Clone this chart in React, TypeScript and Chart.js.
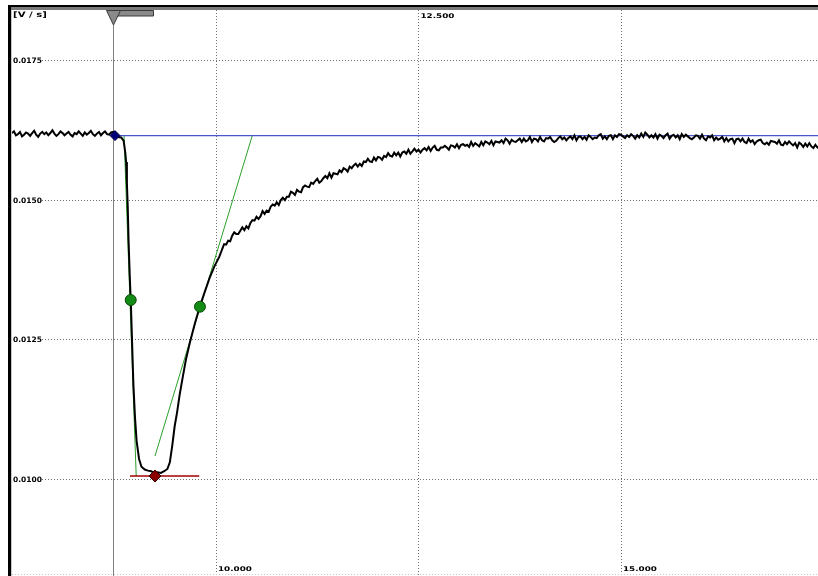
import { useEffect, useRef } from 'react';
import { Chart, registerables } from 'chart.js';

Chart.register(...registerables);

// ---------- data (time in s, signal in V/s) ----------
const baselineTime = [
  7.48, 7.505, 7.53, 7.555, 7.58, 7.605, 7.63, 7.655, 7.68, 7.705,
  7.73, 7.755, 7.78, 7.805, 7.83, 7.855, 7.88, 7.905, 7.93, 7.955,
  7.98, 8.005, 8.03, 8.055, 8.08, 8.105, 8.13, 8.155, 8.18, 8.205,
  8.23, 8.255, 8.28, 8.305, 8.33, 8.355, 8.38, 8.405, 8.43, 8.455,
  8.48, 8.505, 8.53, 8.555, 8.58, 8.605, 8.63, 8.655, 8.68, 8.705,
  8.73,
];
const baselineSignal = [
  0.0162, 0.01623, 0.01616, 0.01618, 0.01622, 0.01614, 0.01617, 0.01621, 0.01619, 0.01615,
  0.0162, 0.01624, 0.01617, 0.01613, 0.01619, 0.01622, 0.01618, 0.01621, 0.01616, 0.0162,
  0.01625, 0.01619, 0.01615, 0.01618, 0.01623, 0.0162, 0.01616, 0.01619, 0.01622, 0.01617,
  0.01614, 0.0162, 0.01618, 0.01623, 0.01619, 0.01615, 0.01621, 0.01617, 0.0162, 0.01624,
  0.01618, 0.01615, 0.01619, 0.01622, 0.01616, 0.0162, 0.01623, 0.01618, 0.01617, 0.01621,
  0.01622,
];

const dipTime = [
  8.76, 8.79, 8.83, 8.86, 8.88, 8.89, 8.9, 8.91, 8.92, 8.935, 8.95, 8.965, 8.98,
  9.0, 9.02, 9.05, 9.08, 9.12, 9.16, 9.2, 9.24, 9.28, 9.32, 9.36, 9.4, 9.43, 9.46,
  9.49, 9.52, 9.55, 9.59, 9.63, 9.68, 9.74, 9.8, 9.86, 9.92, 9.98, 10.04,
];
const dipSignal = [
  0.01616, 0.01613, 0.01612, 0.01606, 0.01585, 0.01568, 0.0153, 0.0149, 0.0143,
  0.01365, 0.0131, 0.0124, 0.0117, 0.0111, 0.01068, 0.01036, 0.01022, 0.01017,
  0.01015, 0.01014, 0.0101, 0.01012, 0.01011, 0.01014, 0.01018, 0.0103, 0.0106,
  0.01095, 0.0112, 0.0115, 0.01183, 0.01215, 0.01246, 0.01279, 0.01309, 0.01335,
  0.0136, 0.01381, 0.01398,
];

const recoveryTime = [
  10.1, 10.125, 10.15, 10.175, 10.2, 10.225, 10.25, 10.275, 10.3, 10.325, 10.35, 10.375, 10.4, 10.425, 10.45, 10.475,
  10.5, 10.525, 10.55, 10.575, 10.6, 10.625, 10.65, 10.675, 10.7, 10.725, 10.75, 10.775, 10.8, 10.825, 10.85, 10.875,
  10.9, 10.925, 10.95, 10.975, 11.0, 11.025, 11.05, 11.075, 11.1, 11.125, 11.15, 11.175, 11.2, 11.225, 11.25, 11.275,
  11.3, 11.325, 11.35, 11.375, 11.4, 11.425, 11.45, 11.475, 11.5, 11.525, 11.55, 11.575, 11.6, 11.625, 11.65, 11.675,
  11.7, 11.725, 11.75, 11.775, 11.8, 11.825, 11.85, 11.875, 11.9, 11.925, 11.95, 11.975, 12.0, 12.025, 12.05, 12.075,
  12.1, 12.125, 12.15, 12.175, 12.2, 12.225, 12.25, 12.275, 12.3, 12.325, 12.35, 12.375, 12.4, 12.425, 12.45, 12.475,
  12.5, 12.525, 12.55, 12.575, 12.6, 12.625, 12.65, 12.675, 12.7, 12.725, 12.75, 12.775, 12.8, 12.825, 12.85, 12.875,
  12.9, 12.925, 12.95, 12.975, 13.0, 13.025, 13.05, 13.075, 13.1, 13.125, 13.15, 13.175, 13.2, 13.225, 13.25, 13.275,
  13.3, 13.325, 13.35, 13.375, 13.4, 13.425, 13.45, 13.475, 13.5, 13.525, 13.55, 13.575, 13.6, 13.625, 13.65, 13.675,
  13.7, 13.725, 13.75, 13.775, 13.8, 13.825, 13.85, 13.875, 13.9, 13.925, 13.95, 13.975, 14.0, 14.025, 14.05, 14.075,
  14.1, 14.125, 14.15, 14.175, 14.2, 14.225, 14.25, 14.275, 14.3, 14.325, 14.35, 14.375, 14.4, 14.425, 14.45, 14.475,
  14.5, 14.525, 14.55, 14.575, 14.6, 14.625, 14.65, 14.675, 14.7, 14.725, 14.75, 14.775, 14.8, 14.825, 14.85, 14.875,
  14.9, 14.925, 14.95, 14.975, 15.0, 15.025, 15.05, 15.075, 15.1, 15.125, 15.15, 15.175, 15.2, 15.225, 15.25, 15.275,
  15.3, 15.325, 15.35, 15.375, 15.4, 15.425, 15.45, 15.475, 15.5, 15.525, 15.55, 15.575, 15.6, 15.625, 15.65, 15.675,
  15.7, 15.725, 15.75, 15.775, 15.8, 15.825, 15.85, 15.875, 15.9, 15.925, 15.95, 15.975, 16.0, 16.025, 16.05, 16.075,
  16.1, 16.125, 16.15, 16.175, 16.2, 16.225, 16.25, 16.275, 16.3, 16.325, 16.35, 16.375, 16.4, 16.425, 16.45, 16.475,
  16.5, 16.525, 16.55, 16.575, 16.6, 16.625, 16.65, 16.675, 16.7, 16.725, 16.75, 16.775, 16.8, 16.825, 16.85, 16.875,
  16.9, 16.925, 16.95, 16.975, 17.0, 17.025, 17.05, 17.075, 17.1, 17.125, 17.15, 17.175, 17.2, 17.225, 17.25, 17.275,
  17.3, 17.325, 17.35, 17.375, 17.4, 17.425, 17.45,
];
const recoverySignal = [
  0.01421, 0.0142, 0.01427, 0.01426, 0.01436, 0.01442, 0.01439, 0.01439, 0.01445, 0.01451, 0.01446, 0.01453, 0.01449, 0.01459, 0.01464, 0.01463,
  0.0147, 0.01466, 0.01471, 0.0148, 0.01475, 0.01481, 0.01479, 0.01488, 0.01492, 0.0149, 0.01496, 0.01491, 0.015, 0.01504, 0.015, 0.01506,
  0.01506, 0.01515, 0.01513, 0.01509, 0.01518, 0.01515, 0.01514, 0.01523, 0.01526, 0.01524, 0.01523, 0.01531, 0.01529, 0.01534, 0.01538, 0.01531,
  0.01534, 0.01539, 0.01543, 0.01539, 0.01548, 0.0154, 0.01548, 0.01547, 0.01546, 0.01553, 0.0155, 0.01557, 0.01555, 0.01551, 0.0156, 0.01557,
  0.01562, 0.01565, 0.0156, 0.01565, 0.01561, 0.01569, 0.01568, 0.01574, 0.01569, 0.01568, 0.01576, 0.01571, 0.01577, 0.01576, 0.01572, 0.01579,
  0.01577, 0.01584, 0.01579, 0.01578, 0.01585, 0.0158, 0.01585, 0.01578, 0.01585, 0.01587, 0.01583, 0.0159, 0.01583, 0.01587, 0.01592, 0.01587,
  0.0159, 0.01585, 0.0159, 0.01593, 0.01589, 0.01595, 0.01588, 0.01594, 0.01597, 0.0159, 0.01589, 0.01594, 0.01594, 0.01597, 0.01594, 0.0159,
  0.01598, 0.01597, 0.01594, 0.016, 0.01593, 0.01599, 0.016, 0.01597, 0.01599, 0.01595, 0.01604, 0.01597, 0.01602, 0.01599, 0.01596, 0.01604,
  0.01598, 0.01605, 0.01603, 0.016, 0.01606, 0.01598, 0.01605, 0.01604, 0.01603, 0.01607, 0.01602, 0.0161, 0.01607, 0.01601, 0.01608, 0.01605,
  0.01604, 0.01607, 0.0161, 0.01604, 0.0161, 0.01605, 0.01607, 0.01613, 0.01604, 0.0161, 0.01609, 0.01605, 0.01613, 0.01607, 0.01605, 0.01611,
  0.0161, 0.01613, 0.01607, 0.01604, 0.01606, 0.01611, 0.01614, 0.01609, 0.01612, 0.01607, 0.01611, 0.01614, 0.01609, 0.01616, 0.01607, 0.01613,
  0.01614, 0.01609, 0.01613, 0.01608, 0.01616, 0.01613, 0.01609, 0.01612, 0.01611, 0.01616, 0.01618, 0.0161, 0.01614, 0.01609, 0.01615, 0.01616,
  0.01609, 0.01616, 0.01613, 0.01618, 0.01617, 0.01614, 0.01611, 0.01616, 0.01613, 0.01618, 0.01615, 0.0161, 0.01616, 0.01612, 0.01619, 0.01613,
  0.01621, 0.01617, 0.01612, 0.01616, 0.01612, 0.01618, 0.0161, 0.01617, 0.01615, 0.01611, 0.01616, 0.01619, 0.0161, 0.01615, 0.01617, 0.01612,
  0.01616, 0.01609, 0.01618, 0.01613, 0.01617, 0.01614, 0.01611, 0.01609, 0.01612, 0.01616, 0.01615, 0.0161, 0.01617, 0.0161, 0.01607, 0.01614,
  0.01612, 0.01616, 0.01607, 0.01612, 0.01608, 0.0161, 0.01613, 0.01605, 0.01611, 0.01605, 0.01609, 0.0161, 0.01602, 0.01609, 0.0161, 0.01605,
  0.0161, 0.01604, 0.01602, 0.0161, 0.01604, 0.01607, 0.016, 0.01605, 0.01607, 0.01608, 0.01602, 0.016, 0.01603, 0.01599, 0.01606, 0.01605,
  0.01604, 0.01601, 0.01607, 0.01599, 0.01598, 0.01604, 0.016, 0.01605, 0.01601, 0.01598, 0.01602, 0.01594, 0.01603, 0.016, 0.01595, 0.01601,
  0.01596, 0.01602, 0.01596, 0.01593, 0.01599, 0.01594, 0.01596,
];

// analysis marks
const cursorTime = 8.73;
const baseLevelLine = { t: [8.73, 17.44], v: [0.016154, 0.016154] };
const onsetPoint = { t: [8.753], v: [0.016154] };
const halfPoints = { t: [8.947, 9.802], v: [0.013208, 0.013088] };
const minPoint = { t: [9.247], v: [0.010054] };
const minLevelLine = { t: [8.938, 9.793], v: [0.010054, 0.010054] };
const fallTangent = { t: [8.865, 9.015], v: [0.016154, 0.010054] };
const riseTangent = { t: [9.247, 10.448], v: [0.010413, 0.016154] };

// axes
const xRange = [7.4815, 17.432];
const yRange = [0.008262, 0.018405];
const xTickValues = [10, 12.5, 15];
const xTickLabels = ['10.000', '12.500', '15.000'];
const xTickSide = ['bottom', 'top', 'bottom'];
const yTickValues = [0.01, 0.0125, 0.015, 0.0175];
const yTickLabels = ['0.0100', '0.0125', '0.0150', '0.0175'];
const unitLabel = '[V / s]';

const pts = (t: number[], v: number[]) => t.map((x, i) => ({ x, y: v[i] }));

function stretchText(ctx: CanvasRenderingContext2D, text: string, x: number, y: number, sx: number, font: string) {
  ctx.save();
  ctx.font = font;
  ctx.textBaseline = 'alphabetic';
  ctx.textAlign = 'left';
  ctx.translate(x, y);
  ctx.scale(sx, 1);
  ctx.fillText(text, 0, 0);
  ctx.restore();
}

const decorPlugin = {
  id: 'decor',
  beforeDraw(chart: any) {
    const { ctx, width, height } = chart;
    ctx.save();
    ctx.fillStyle = '#ffffff';
    ctx.fillRect(0, 0, width, height);
    ctx.fillStyle = '#000000';
    ctx.fillRect(8, 5, width - 8, 2.5);
    ctx.fillStyle = '#7a7a7a';
    ctx.fillRect(8, 7.5, width - 8, 2.5);
    ctx.fillStyle = '#000000';
    ctx.fillRect(8, 5, 3, height - 5);
    ctx.fillStyle = '#c8c8c8';
    ctx.fillRect(11, 10, 1, height - 10);
    ctx.restore();
  },
  beforeDatasetsDraw(chart: any) {
    const { ctx, chartArea } = chart;
    const xs = chart.scales.x;
    const ys = chart.scales.y;
    ctx.save();
    // bottom dotted edge
    ctx.strokeStyle = '#c8c8c8';
    ctx.setLineDash([1, 2]);
    ctx.beginPath();
    ctx.moveTo(chartArea.left, chartArea.bottom - 1.5);
    ctx.lineTo(chartArea.right, chartArea.bottom - 1.5);
    ctx.stroke();
    ctx.setLineDash([]);
    // y labels with backdrop
    yTickValues.forEach((v, i) => {
      const py = ys.getPixelForValue(v);
      ctx.fillStyle = '#ffffff';
      ctx.fillRect(chartArea.left, py - 4, 29, 7);
      ctx.fillStyle = '#000000';
      stretchText(ctx, yTickLabels[i], chartArea.left + 1, py + 2.5, 1.0, 'bold 7.5px "DejaVu Sans"');
    });
    // x labels
    xTickValues.forEach((v, i) => {
      const px = xs.getPixelForValue(v);
      ctx.fillStyle = '#000000';
      const by = xTickSide[i] === 'top' ? chartArea.top + 7.5 : chartArea.bottom - 5;
      stretchText(ctx, xTickLabels[i], px + 2, by, 1.35, 'bold 6.5px "DejaVu Sans"');
    });
    stretchText(ctx, unitLabel, chartArea.left + 1, chartArea.top + 7, 1.35, 'bold 7.5px "DejaVu Sans"');
    // cursor line
    const cx = Math.round(xs.getPixelForValue(cursorTime)) + 0.5;
    ctx.strokeStyle = '#808080';
    ctx.lineWidth = 1;
    ctx.beginPath();
    ctx.moveTo(cx, chartArea.top);
    ctx.lineTo(cx, chartArea.bottom);
    ctx.stroke();
    ctx.restore();
  },
  afterDatasetsDraw(chart: any) {
    const { ctx, chartArea } = chart;
    const xs = chart.scales.x;
    const cx = Math.round(xs.getPixelForValue(cursorTime)) + 0.5;
    const top = chartArea.top;
    ctx.save();
    ctx.fillStyle = '#8a8a8a';
    ctx.strokeStyle = '#3a3a3a';
    ctx.lineWidth = 1;
    ctx.beginPath();
    ctx.rect(cx, top + 0.5, 40, 5.5);
    ctx.fill();
    ctx.stroke();
    ctx.beginPath();
    ctx.moveTo(cx - 7, top + 0.5);
    ctx.lineTo(cx + 7, top + 0.5);
    ctx.lineTo(cx, top + 15);
    ctx.closePath();
    ctx.fill();
    ctx.stroke();
    ctx.restore();
  },
};

export default function App() {
  const ref = useRef<HTMLCanvasElement | null>(null);

  useEffect(() => {
    if (!ref.current) return;
    const curve = pts(
      [...baselineTime, ...dipTime, ...recoveryTime],
      [...baselineSignal, ...dipSignal, ...recoverySignal]
    );
    const chart = new Chart(ref.current, {
      type: 'line',
      data: {
        datasets: [
          {
            label: 'onset',
            data: pts(onsetPoint.t, onsetPoint.v),
            showLine: false,
            pointStyle: 'rectRot',
            pointRadius: 5,
            backgroundColor: '#00007a',
            borderColor: '#000040',
            borderWidth: 1,
            order: 0,
          },
          {
            label: 'half',
            data: pts(halfPoints.t, halfPoints.v),
            showLine: false,
            pointStyle: 'circle',
            pointRadius: 5.5,
            backgroundColor: '#138a13',
            borderColor: '#0a4a0a',
            borderWidth: 1,
            order: 0,
          },
          {
            label: 'min',
            data: pts(minPoint.t, minPoint.v),
            showLine: false,
            pointStyle: 'rectRot',
            pointRadius: 6,
            backgroundColor: '#8a0000',
            borderColor: '#300000',
            borderWidth: 1,
            order: 0,
          },
          {
            label: 'signal',
            data: curve,
            borderColor: '#000000',
            borderWidth: 2,
            pointRadius: 0,
            tension: 0,
            order: 1,
          },
          {
            label: 'base',
            data: pts(baseLevelLine.t, baseLevelLine.v),
            borderColor: '#4a56cc',
            borderWidth: 1.2,
            pointRadius: 0,
            order: 2,
          },
          {
            label: 'minLevel',
            data: pts(minLevelLine.t, minLevelLine.v),
            borderColor: '#a00000',
            borderWidth: 1.5,
            pointRadius: 0,
            order: 2,
          },
          {
            label: 'fall',
            data: pts(fallTangent.t, fallTangent.v),
            borderColor: '#2aa02a',
            borderWidth: 1,
            pointRadius: 0,
            order: 2,
          },
          {
            label: 'rise',
            data: pts(riseTangent.t, riseTangent.v),
            borderColor: '#2aa02a',
            borderWidth: 1,
            pointRadius: 0,
            order: 2,
          },
        ],
      },
      options: {
        animation: false,
        responsive: false,
        maintainAspectRatio: false,
        events: [],
        layout: { autoPadding: false, padding: { left: 12, top: 10, right: 0, bottom: 0 } },
        plugins: { legend: { display: false }, tooltip: { enabled: false } },
        scales: {
          x: {
            type: 'linear',
            min: xRange[0],
            max: xRange[1],
            afterBuildTicks: (axis: any) => {
              axis.ticks = xTickValues.map((value) => ({ value }));
            },
            ticks: { display: false },
            grid: { color: '#707070', lineWidth: 1, drawTicks: false },
            border: { display: false, dash: [1, 2] },
          },
          y: {
            type: 'linear',
            min: yRange[0],
            max: yRange[1],
            afterBuildTicks: (axis: any) => {
              axis.ticks = yTickValues.map((value) => ({ value }));
            },
            ticks: { display: false },
            grid: { color: '#707070', lineWidth: 1, drawTicks: false },
            border: { display: false, dash: [1, 2] },
          },
        },
      },
      plugins: [decorPlugin],
    });
    return () => chart.destroy();
  }, []);

  return (
    <div style={{ position: 'fixed', left: 0, top: 0, width: 818, height: 576, background: '#fff' }}>
      <canvas ref={ref} width={818} height={576} style={{ display: 'block' }} />
    </div>
  );
}
